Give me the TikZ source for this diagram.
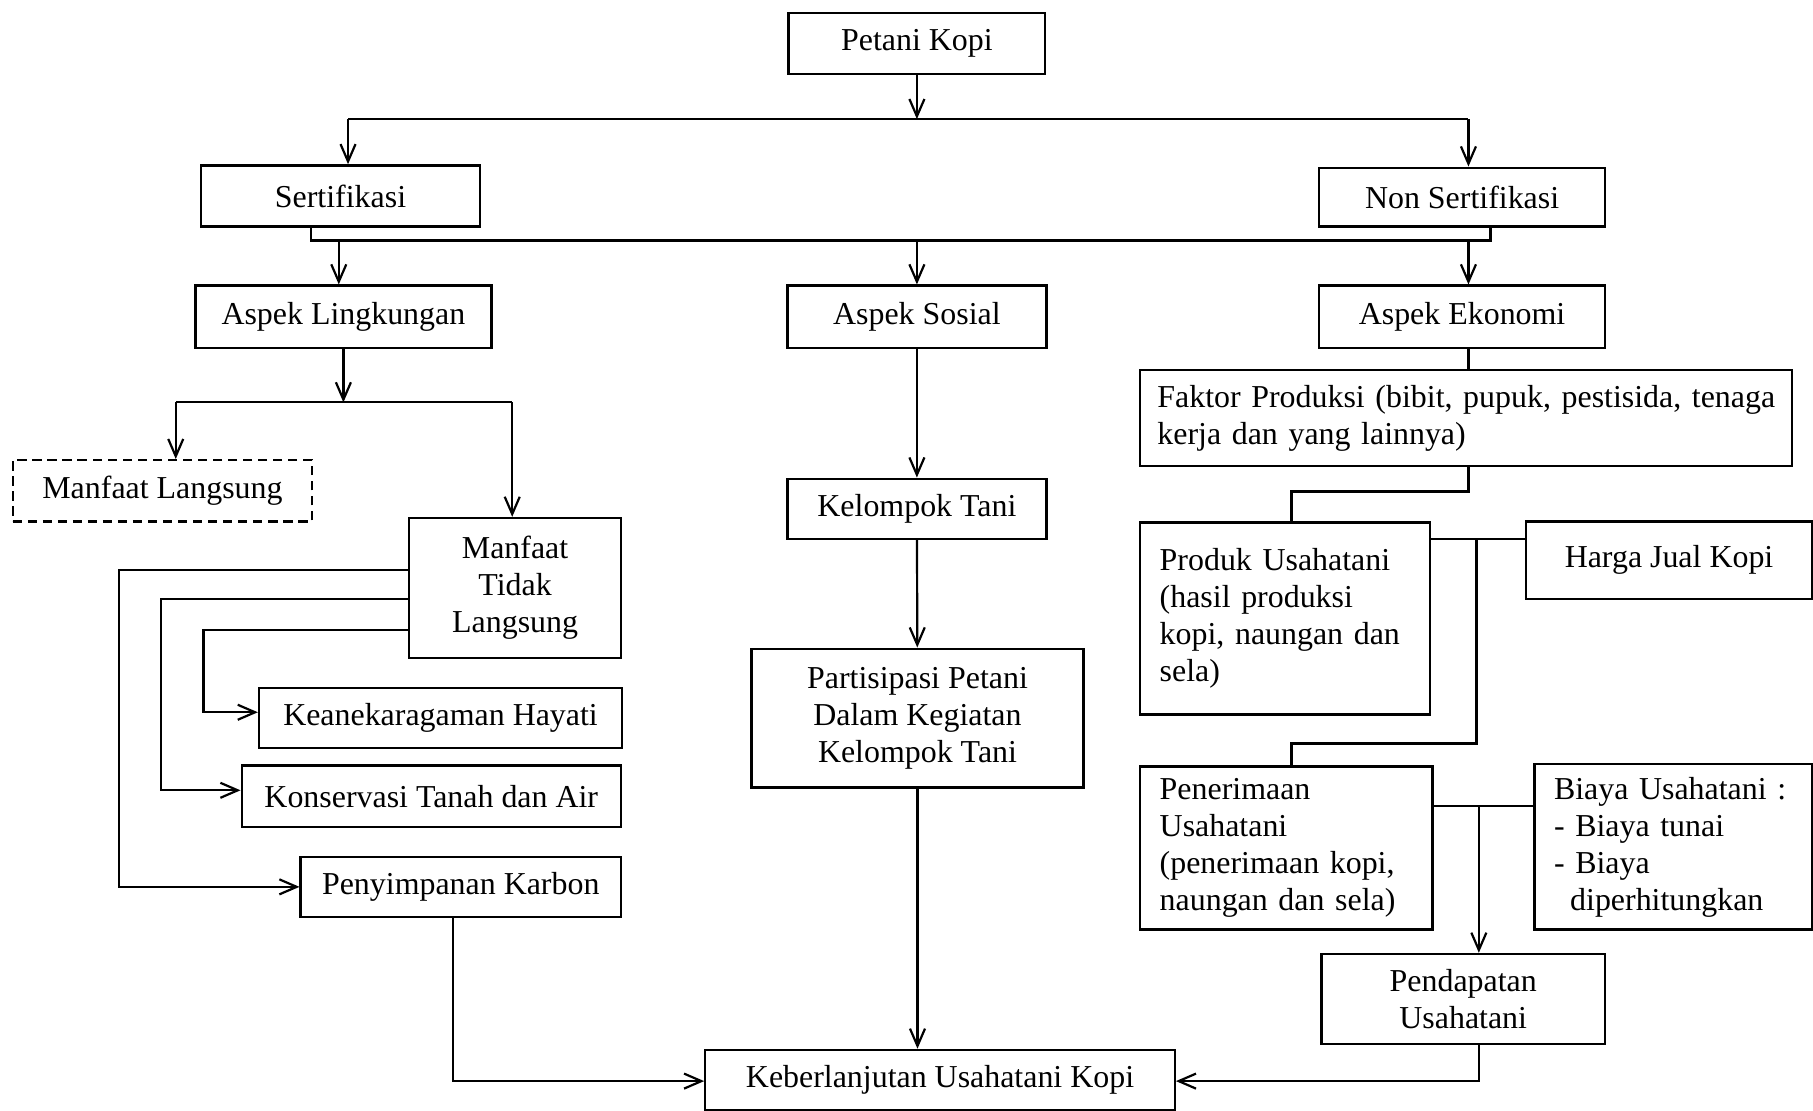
\documentclass[tikz,border=0pt]{standalone}
\usepackage{fontspec}
\setmainfont{Liberation Serif}
\usetikzlibrary{arrows.meta}
\tikzset{
    lab/.style={
        font=\fontsize{13.8}{16}\selectfont
    },
    box/.style={
        draw, line width=1pt, lab, align=center, inner sep=0pt
    },
    lbox/.style={
        draw, line width=1pt, lab, align=left, inner xsep=8.5pt,
        inner ysep=0pt, text width=#1
    },
    arr/.style={
        -{Straight Barb[length=7.5pt,width=6.5pt]}
    }
}

\begin{document}
\begin{tikzpicture}[x=0.5pt,y=-0.5pt,line width=0.95pt]
\useasboundingbox (0,0) rectangle (1568,960);

% --- top levels ---
    \node[box, minimum width=111pt, minimum height=26.5pt] (pk) at (793,37.5) {Petani Kopi};
    \node[box, minimum width=120.5pt, minimum height=26.5pt] (sert) at (294.5,169.5) {Sertifikasi};
    \node[box, minimum width=123.5pt, minimum height=25.5pt] (nons) at (1264.5,170.5) {Non Sertifikasi};

% aspects
    \node[box, minimum width=128pt, minimum height=27pt] (lingk) at (297,274) {Aspek Lingkungan};
    \node[box, minimum width=112pt, minimum height=27pt] (sos) at (793,274) {Aspek Sosial};
    \node[box, minimum width=123.5pt, minimum height=27pt] (eko) at (1264.5,274) {Aspek Ekonomi};

% --- environment column ---
    \node[box, dash pattern=on 4pt off 2.5pt, minimum width=129.5pt, minimum height=26.5pt] (ml) at (140.5,424.5) {Manfaat Langsung};
    \node[box, minimum width=91.5pt, minimum height=60.5pt] (mtl) at (445.5,508.5) {Manfaat\\Tidak\\Langsung};
    \node[box, minimum width=157pt, minimum height=26pt] (kh) at (381,621) {Keanekaragaman Hayati};
    \node[box, minimum width=164pt, minimum height=26.5pt] (kta) at (373,688.5) {Konservasi Tanah dan Air};
    \node[box, minimum width=138.5pt, minimum height=26pt] (karb) at (398.5,767) {Penyimpanan Karbon};

% --- social column ---
    \node[box, minimum width=112pt, minimum height=26pt] (kel) at (793,440) {Kelompok Tani};
    \node[box, minimum width=143.5pt, minimum height=60pt] (part) at (793.5,621) {Partisipasi Petani\\Dalam Kegiatan\\Kelompok Tani};

% --- economy column ---
    \node[lbox=267pt, inner xsep=7.5pt, minimum height=41.5pt] (fak) at (1268,361.5) {\mbox{Faktor Produksi (bibit, pupuk, pestisida, tenaga}\\kerja dan yang lainnya)};
    \node[lbox=108.5pt, minimum height=83pt] (prod) at (1111.5,535) {Produk Usahatani\\(hasil produksi\\kopi, naungan dan\\sela)};
    \node[box, minimum width=123.5pt, minimum height=33.5pt] (harga) at (1443.5,484.5) {Harga Jual Kopi};
    \node[lbox=109.5pt, minimum height=70.5pt] (pen) at (1112.5,733.5) {Penerimaan\\Usahatani\\(penerimaan kopi,\\naungan dan sela)};
    \node[lbox=103pt, minimum height=71.5pt] (biaya) at (1447,732.5) {Biaya Usahatani :\\- Biaya tunai\\- Biaya\\\hspace*{7pt}diperhitungkan};
    \node[box, minimum width=122.5pt, minimum height=39pt] (pend) at (1265.5,864) {Pendapatan\\Usahatani};

% --- bottom ---
    \node[box, minimum width=203pt, minimum height=26pt] (keb) at (813,934) {Keberlanjutan Usahatani Kopi};

% --- branching points ---
    \coordinate (t1)  at (793,103);
    \coordinate (t1l) at (301,103);
    \coordinate (t1r) at (1270,103);
    \coordinate (t2l) at (269,208);
    \coordinate (t2r) at (1289,208);
    \coordinate (a1)  at (293,208);
    \coordinate (a2)  at (793,208);
    \coordinate (a3)  at (1270,208);
    \coordinate (t3)  at (297,348);
    \coordinate (t3l) at (152,348);
    \coordinate (t3r) at (443,348);
    \coordinate (b1)  at (103,493);
    \coordinate (b2)  at (139,518);
    \coordinate (b3)  at (176,545);
    \coordinate (c1)  at (392,935);
    \coordinate (d1)  at (1270,425);
    \coordinate (d2)  at (1117,425);
    \coordinate (e1)  at (1277,466);
    \coordinate (e2)  at (1277,643);
    \coordinate (e3)  at (1117,643);
    \coordinate (f1)  at (1279,697);
    \coordinate (g1)  at (1279,935);

% connectors: top
    \draw[arr] (pk) -- (t1);
    \draw (t1l) -- (t1r);
    \draw[arr] (t1l) -- (sert.north -| t1l);
    \draw[arr] (t1r) -- (nons.north -| t1r);
    \draw (sert.south -| t2l) -- (t2l) -- (t2r) -- (nons.south -| t2r);
    \draw[arr] (a1) -- (lingk.north -| a1);
    \draw[arr] (a2) -- (sos.north -| a2);
    \draw[arr] (a3) -- (eko.north -| a3);

% connectors: environment
    \draw[arr] (lingk) -- (t3);
    \draw (t3l) -- (t3r);
    \draw[arr] (t3l) -- (ml.north -| t3l);
    \draw[arr] (t3r) -- (mtl.north -| t3r);
    \draw[arr] (mtl.west |- b1) -- (b1) |- (karb.west);
    \draw[arr] (mtl.west |- b2) -- (b2) |- ([yshift=2.5pt]kta.west);
    \draw[arr] (mtl.west |- b3) -- (b3) |- ([yshift=2.5pt]kh.west);
    \draw[arr] (karb.south -| c1) -- (c1) -- (keb.west |- c1);

% connectors: social
    \draw[arr] (sos) -- (kel);
    \draw[arr] (kel) -- (part);
    \draw[arr] (part.south) -- (keb.north -| part.south);

% connectors: economy
    \draw (eko.south -| d1) -- (fak.north -| d1);
    \draw (fak.south -| d1) -- (d1) -- (d2) -- (prod.north -| d2);
    \draw (prod.east |- e1) -- (harga.west |- e1);
    \draw (e1) -- (e2) -- (e3) -- (pen.north -| e3);
    \draw (pen.east |- f1) -- (biaya.west |- f1);
    \draw[arr] (f1) -- (pend.north -| f1);
    \draw[arr] (pend.south -| g1) -- (g1) -- (keb.east |- g1);

\end{tikzpicture}
\end{document}
